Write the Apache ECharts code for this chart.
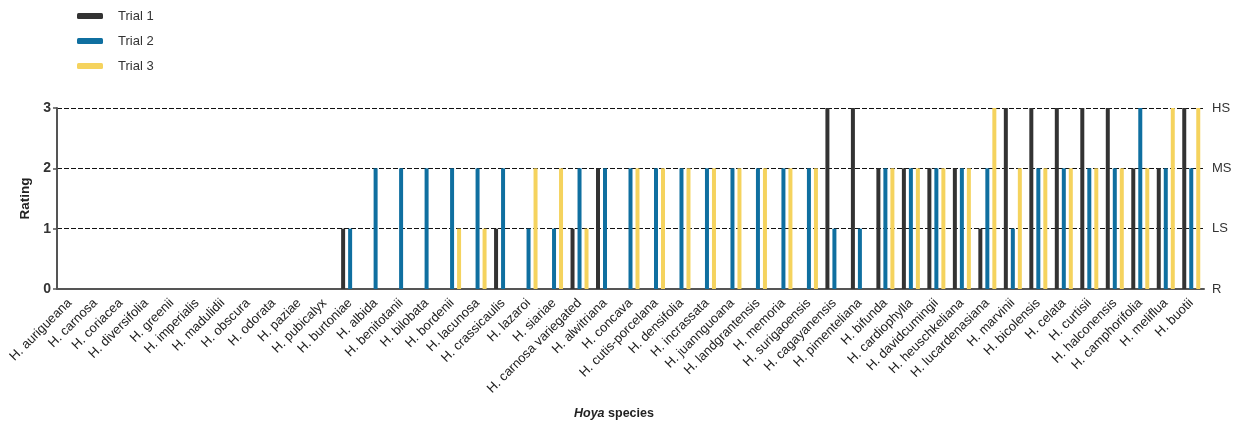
<!DOCTYPE html>
<html>
<head>
<meta charset="utf-8">
<script src="https://cdn.jsdelivr.net/npm/echarts@6/dist/echarts.min.js"></script>
<style>
  html, body { margin: 0; padding: 0; background: #fff; }
  #chart { width: 1236px; height: 426px; }
</style>
</head>
<body>
<div id="chart"></div>
<script>
// species on the x axis
var species = [
  'H. aurigueana', 'H. carnosa', 'H. coriacea', 'H. diversifolia', 'H. greenii',
  'H. imperialis', 'H. madulidii', 'H. obscura', 'H. odorata', 'H. paziae',
  'H. pubicalyx', 'H. burtoniae', 'H. albida', 'H. benitotanii', 'H. bilobata',
  'H. bordenii', 'H. lacunosa', 'H. crassicaulis', 'H. lazaroi', 'H. siariae',
  'H. carnosa variegated', 'H. alwitriana', 'H. concava', 'H. cutis-porcelana', 'H. densifolia',
  'H. incrassata', 'H. juannguoana', 'H. landgrantensis', 'H. memoria', 'H. surigaoensis',
  'H. cagayanensis', 'H. pimenteliana', 'H. bifunda', 'H. cardiophylla', 'H. davidcumingii',
  'H. heuschkeliana', 'H. lucardenasiana', 'H. marvinii', 'H. bicolensis', 'H. celata',
  'H. curtisii', 'H. halconensis', 'H. camphorifolia', 'H. meliflua', 'H. buotii'
];

// ratings per trial
var trial1 = [0,0,0,0,0, 0,0,0,0,0, 0,1,0,0,0, 0,0,1,0,0, 1,2,0,0,0, 0,0,0,0,0, 3,3,2,2,2, 2,1,3,3,3, 3,3,2,2,3];
var trial2 = [0,0,0,0,0, 0,0,0,0,0, 0,1,2,2,2, 2,2,2,1,1, 2,2,2,2,2, 2,2,2,2,2, 1,1,2,2,2, 2,2,1,2,2, 2,2,3,2,2];
var trial3 = [0,0,0,0,0, 0,0,0,0,0, 0,0,0,0,0, 1,1,0,2,2, 1,0,2,2,2, 2,2,2,2,2, 0,0,2,2,2, 2,3,2,2,2, 2,2,2,3,3];

var ratingTicks = ['R', 'LS', 'MS', 'HS'];

var chart = echarts.init(document.getElementById('chart'));

function barSeries(name, data, color) {
  return {
    name: name,
    type: 'bar',
    // zero ratings draw nothing
    data: data.map(function (v) { return v === 0 ? null : v; }),
    barWidth: 4,
    barGap: '75%',
    itemStyle: { color: color },
    emphasis: { disabled: true }
  };
}

chart.setOption({
  animation: false,
  textStyle: { fontFamily: 'Liberation Sans, Arial, sans-serif' },
  title: {
    text: '{i|Hoya} species',
    left: 569,
    top: 402,
    textStyle: {
      fontSize: 12.5,
      fontWeight: 'bold',
      color: '#222',
      rich: { i: { fontStyle: 'italic', fontWeight: 'bold', fontSize: 12.5, color: '#222' } }
    }
  },
  legend: {
    orient: 'vertical',
    left: 72,
    top: 4,
    itemWidth: 26,
    itemHeight: 6,
    itemGap: 11,
    icon: 'roundRect',
    textStyle: { fontSize: 13, color: '#333', lineHeight: 14, padding: [0, 0, 0, 10] },
    data: ['Trial 1', 'Trial 2', 'Trial 3']
  },
  grid: { left: 57, right: 32, top: 108, bottom: 137, containLabel: false },
  xAxis: {
    type: 'category',
    data: species,
    axisLine: { lineStyle: { color: '#555', width: 2 } },
    axisTick: { alignWithLabel: true, length: 5, lineStyle: { color: '#555', width: 1.5 } },
    axisLabel: { rotate: 45, interval: 0, fontSize: 13, color: '#222', margin: 12 }
  },
  yAxis: [{
    type: 'value',
    min: 0, max: 3, interval: 1,
    name: 'Rating',
    nameLocation: 'middle',
    nameGap: 24,
    nameTextStyle: { fontSize: 13.5, fontWeight: 'bold', color: '#222' },
    axisLine: { show: true, lineStyle: { color: '#555', width: 2 } },
    axisTick: { show: true, length: 4, lineStyle: { color: '#555', width: 1.5 } },
    axisLabel: { fontSize: 14, fontWeight: 'bold', color: '#333', margin: 6 },
    splitLine: { show: true, lineStyle: { color: '#111', type: [5, 2], width: 1.2 } }
  }, {
    type: 'value',
    position: 'right',
    min: 0, max: 3, interval: 1,
    axisLine: { show: false },
    axisTick: { show: false },
    splitLine: { show: false },
    axisLabel: {
      fontSize: 13, color: '#333', margin: 8,
      formatter: function (v) { return ratingTicks[v]; }
    }
  }],
  series: [
    barSeries('Trial 1', trial1, '#333333'),
    barSeries('Trial 2', trial2, '#0f6fa0'),
    barSeries('Trial 3', trial3, '#f5d35e')
  ]
});
</script>
</body>
</html>
